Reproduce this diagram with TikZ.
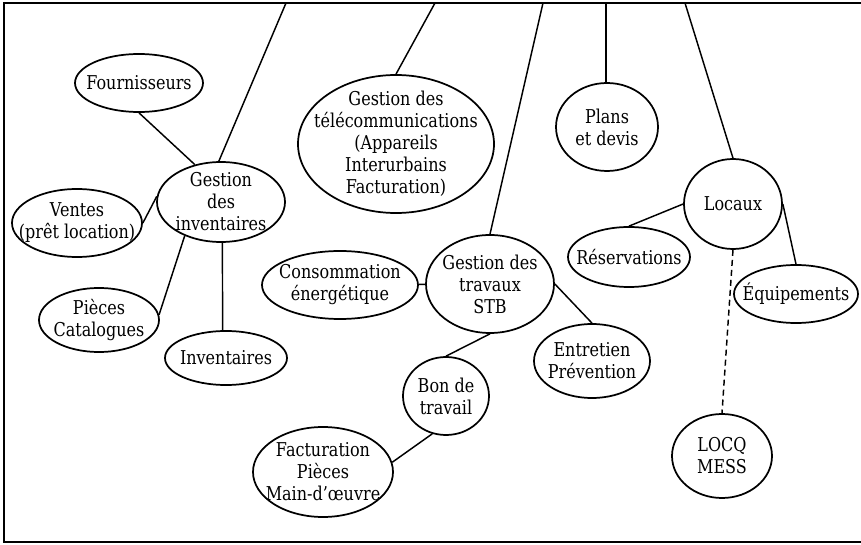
\documentclass[tikz,border=0pt]{standalone}
\usepackage{fontspec}
\setmainfont{DejaVu Serif}[FakeStretch=0.84]
\usetikzlibrary{shapes.geometric}

% An ellipse of given half-axes (in pixel units) with its text on top
\newcommand\bulle[5]{%
  \node[bub, minimum width=#3*1.5pt, minimum height=#4*1.5pt] (#1) at (#2) {};
  \node[lbl] (#1-t) at (#1) {#5};}

\tikzset{
  bub/.style={ellipse, draw, line width=1.3pt, inner sep=0pt},
  lbl/.style={align=center, inner sep=0pt, font=\fontsize{14.3}{16.5}\selectfont},
  link/.style={line width=1.1pt},
  dlink/.style={line width=1.1pt, dash pattern=on 4.5pt off 3pt},
  frame/.style={line width=2pt}
}

\begin{document}
\begin{tikzpicture}[x=0.75pt, y=-0.75pt]
\useasboundingbox (0,0) rectangle (861,545);

% open frame (no right side)
\draw[frame] (861,3) -- (4,3) -- (4,542) -- (861,542);

% ellipses
\bulle{fourn}{139,83}{64}{29}{Fournisseurs}
\bulle{inv}{221,202}{64}{40}{Gestion\\des\\inventaires}
\bulle{vent}{77,223}{65}{34}{Ventes\\(prêt location)}
\bulle{piec}{99,320}{60}{32}{Pièces\\Catalogues}
\bulle{invt}{226,358}{61}{27}{Inventaires}
\bulle{tele}{396,144}{98}{69}{Gestion des\\télécommunications\\(Appareils\\Interurbains\\Facturation)}
\bulle{plan}{607,127}{51}{44}{Plans\\et devis}
\bulle{loc}{733,204}{49}{45}{Locaux}
\bulle{res}{629,257}{61}{30}{Réservations}
\bulle{equ}{796,294}{62}{29}{Équipements}
\bulle{locq}{722,456}{50}{42}{LOCQ\\MESS}
\bulle{trav}{490,284}{64}{49}{Gestion des\\travaux\\STB}
\bulle{cons}{340,285}{78}{34}{Consommation\\énergétique}
\bulle{entr}{592,361}{58}{37}{Entretien\\Prévention}
\bulle{bon}{446,396}{43}{39}{Bon de\\travail}
\bulle{fact}{323,472}{70}{45}{Facturation\\Pièces\\Main-d’œuvre}

% free ends on the top edge
\coordinate (t1) at (286,3);
\coordinate (t2) at (435,3);
\coordinate (t3) at (543,3);
\coordinate (t4) at (606,3);
\coordinate (t5) at (685,3);

% lines from the top edge
\draw[link] (t1) -- (inv.93);
\draw[link] (t2) -- (tele.north);
\draw[link] (t3) -- (trav.north);
\draw[link] (t4) -- (t4 |- plan.north);
\draw[link] (t5) -- (loc.north);

% inventory branch
\draw[link] (fourn.south) -- (inv.125);
\draw[link] (inv.175) -- (vent.east);
\draw[link] (inv.223) -- (piec.5);
\draw[link] (inv.272) -- (invt.97);

% works branch
\draw[link] (cons) -- (trav);
\draw[link] (trav.east) -- (entr.north);
\draw[link] (trav.south) -- (bon.north);
\draw[link] (bon.250) -- (fact.8);

% premises branch
\draw[link] (loc.west) -- (res.north);
\draw[link] (loc.east) -- (equ.north);
\draw[dlink] (loc.south) -- (locq.north);
\end{tikzpicture}
\end{document}
